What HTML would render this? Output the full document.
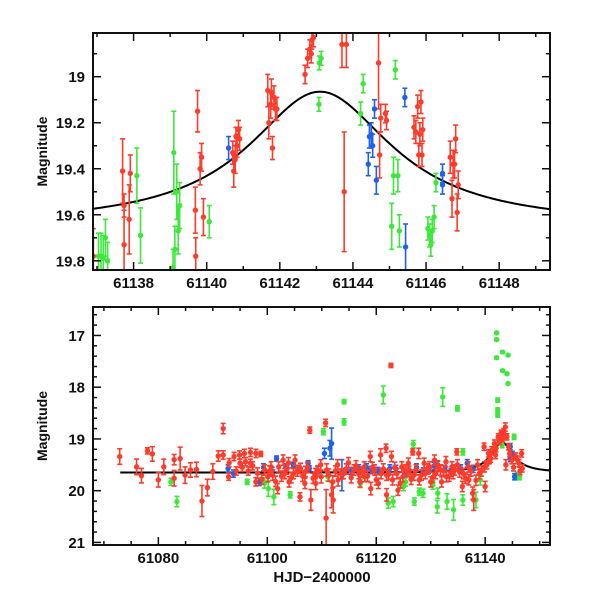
<!DOCTYPE html>
<html><head><meta charset="utf-8"><style>
html,body{margin:0;padding:0;background:#fff}
svg text{font-family:"Liberation Sans",sans-serif;font-weight:bold;fill:#111}
</style></head><body>
<svg id="chart" width="600" height="600" xmlns="http://www.w3.org/2000/svg"></svg>
<script>
// ---- data: [HJD-2400000, magnitude, error] ----
const topRed = [[61136.90,19.78,.12],[61137.70,19.41,.14],[61137.74,19.73,.15],[61137.74,19.56,.05],[61137.88,19.62,.15],[61137.91,19.42,.08],[61139.75,19.15,.09],[61139.69,19.58,.10],[61139.70,19.78,.08],[61139.82,19.40,.07],[61139.86,19.35,.06],[61139.91,19.61,.08],[61140.71,19.33,.05],[61140.74,19.41,.07],[61140.78,19.36,.06],[61140.80,19.26,.04],[61140.83,19.30,.05],[61140.87,19.23,.04],[61140.90,19.27,.05],[61141.67,19.06,.07],[61141.70,19.20,.07],[61141.75,19.12,.06],[61141.77,19.07,.06],[61141.80,19.31,.05],[61141.84,19.09,.05],[61141.88,19.14,.05],[61141.92,19.14,.05],[61142.69,18.99,.04],[61142.76,18.92,.04],[61142.82,18.88,.04],[61142.88,18.84,.04],[61142.86,18.90,.04],[61142.92,18.83,.04],[61143.70,18.86,.10],[61143.76,19.50,.26],[61143.82,18.86,.10],[61144.70,18.94,.20],[61144.73,19.34,.10],[61144.76,19.18,.06],[61144.89,19.16,.04],[61144.92,19.19,.04],[61145.67,19.22,.05],[61145.72,19.24,.05],[61145.77,19.13,.05],[61145.80,19.34,.05],[61145.83,19.25,.05],[61145.86,19.11,.05],[61145.89,19.34,.05],[61145.91,19.23,.05],[61146.66,19.35,.07],[61146.71,19.53,.08],[61146.74,19.38,.06],[61146.78,19.38,.06],[61146.81,19.27,.06],[61146.85,19.59,.08],[61146.88,19.47,.06]];
const topGreen = [[61137.04,19.78,.10],[61137.11,19.78,.10],[61137.17,19.79,.10],[61137.23,19.70,.08],[61137.29,19.80,.08],[61138.09,19.43,.12],[61138.19,19.69,.12],[61139.10,19.33,.18],[61139.13,19.75,.10],[61139.18,19.50,.12],[61139.22,19.67,.10],[61139.26,19.56,.10],[61139.08,19.83,.08],[61140.07,19.63,.07],[61143.08,18.94,.03],[61143.13,18.92,.03],[61143.07,19.12,.03],[61144.28,19.03,.04],[61144.21,19.16,.05],[61145.06,19.65,.10],[61145.11,19.43,.08],[61145.16,18.97,.04],[61145.23,19.43,.07],[61145.27,19.67,.07],[61146.05,19.66,.05],[61146.10,19.69,.05],[61146.13,19.73,.05],[61146.17,19.67,.05],[61146.22,19.61,.05],[61146.27,19.46,.04]];
const topBlue = [[61140.60,19.31,.05],[61144.42,19.38,.05],[61144.45,19.26,.05],[61144.50,19.25,.05],[61144.54,19.30,.05],[61144.59,19.14,.04],[61144.64,19.45,.06],[61145.42,19.09,.04],[61145.44,19.74,.10],[61146.45,19.42,.04],[61146.45,19.47,.04]];

const botRed = [[61072.9,19.34,.15],[61076.0,19.54,.15],[61076.9,19.71,.14],[61078.0,19.23,.06],[61078.9,19.29,.14],[61080.0,19.79,.14],[61081.0,19.54,.15],[61082.9,19.76,.15],[61082.9,19.40,.10],[61084.0,19.38,.22],[61084.9,19.70,.16],[61085.9,19.60,.14],[61087.0,19.59,.14],[61088.0,20.20,.30],[61089.0,19.94,.16],[61090.0,19.63,.15],[61091.0,19.33,.10],[61091.9,18.80,.10],[61091.9,19.31,.08],[61092.9,19.73,.07],[61093.0,19.46,.08],[61093.9,19.34,.08],[61094.9,19.31,.08],[61095.0,19.47,.08],[61095.8,19.28,.08],[61096.0,19.44,.08],[61096.9,19.26,.08],[61096.9,19.47,.08],[61097.9,19.28,.08],[61097.9,19.83,.08],[61098.8,19.29,.05],[61098.2,19.66,.10],[61099.5,19.60,.10],[61100.1,19.73,.10],[61100.7,19.54,.10],[61101.0,19.70,.10],[61101.9,19.96,.10],[61102.1,19.54,.10],[61102.9,19.41,.10],[61103.2,19.67,.10],[61103.9,19.46,.10],[61104.0,19.83,.10],[61104.8,19.67,.10],[61105.1,19.41,.10],[61106.0,20.12,.08],[61106.1,19.57,.10],[61106.9,19.86,.10],[61107.0,19.63,.10],[61107.8,18.83,.06],[61108.0,20.18,.20],[61108.8,19.67,.10],[61108.9,19.86,.12],[61109.8,19.50,.10],[61109.9,19.73,.12],[61110.7,18.69,.07],[61110.8,20.53,.55],[61110.9,19.60,.12],[61111.8,20.08,.25],[61112.0,19.83,.12],[61112.1,20.18,.25],[61112.9,19.50,.10],[61113.0,19.79,.12],[61114.0,19.67,.10],[61114.9,19.46,.10],[61115.9,19.60,.10],[61116.8,19.67,.10],[61117.0,19.83,.10],[61117.8,19.54,.10],[61117.9,19.73,.10],[61118.9,19.34,.10],[61119.0,19.96,.12],[61119.7,19.60,.10],[61120.0,19.79,.10],[61120.8,19.31,.12],[61120.9,19.67,.10],[61121.8,19.18,.08],[61121.9,20.08,.12],[61121.9,19.70,.10],[61122.7,17.58,.04],[61122.8,19.34,.10],[61123.0,19.79,.10],[61123.8,19.67,.10],[61124.0,19.99,.10],[61124.7,19.54,.10],[61124.9,19.73,.10],[61125.9,19.47,.10],[61126.0,19.63,.10],[61126.7,19.25,.06],[61126.9,19.70,.10],[61127.8,19.28,.10],[61127.9,19.79,.10],[61128.8,19.47,.10],[61129.0,19.67,.10],[61129.8,19.54,.10],[61130.0,19.83,.10],[61130.7,19.41,.10],[61130.9,19.67,.10],[61131.8,19.60,.10],[61132.0,19.83,.10],[61132.8,19.44,.10],[61132.9,19.73,.10],[61133.9,19.54,.10],[61134.1,19.67,.10],[61134.8,19.25,.06],[61134.9,19.50,.10],[61135.8,19.92,.10],[61136.0,19.67,.10],[61136.9,19.54,.10],[61137.0,19.79,.10],[61137.7,20.05,.12],[61137.9,20.18,.20],[61138.6,19.50,.10],[61138.9,19.67,.10],[61139.8,19.15,.07],[61139.9,19.54,.10],[61140.0,19.92,.10],[61140.6,19.28,.07],[61140.8,19.41,.07],[61141.2,19.22,.07],[61141.7,19.09,.07],[61141.9,19.31,.07],[61142.4,18.96,.06],[61142.9,18.89,.06],[61143.4,18.86,.06],[61143.7,18.77,.08],[61143.8,19.50,.10],[61144.0,18.96,.06],[61144.3,19.15,.06],[61144.9,19.41,.07],[61145.6,19.34,.07],[61146.2,19.47,.07],[61146.7,19.28,.07],[61146.8,19.57,.07],
[61094.3,19.62,.08],[61095.4,19.55,.08],[61096.5,19.62,.08],[61097.3,19.52,.08],[61099.0,19.78,.10],[61100.4,19.62,.10],[61101.5,19.82,.10],[61102.6,19.72,.10],[61103.6,19.58,.10],[61104.4,19.75,.10],[61105.5,19.62,.10],[61106.5,19.72,.10],[61107.4,19.55,.10],[61108.4,19.76,.10],[61109.3,19.62,.10],[61111.3,19.70,.12],[61112.5,19.62,.10],[61113.5,19.68,.10],[61114.5,19.58,.10],[61115.4,19.75,.10],[61116.3,19.52,.10],[61117.4,19.64,.10],[61118.4,19.72,.10],[61119.3,19.55,.10],[61120.4,19.86,.10],[61121.3,19.58,.10],[61122.3,19.68,.10],[61123.4,19.55,.10],[61124.4,19.85,.10],[61125.4,19.60,.10],[61126.4,19.78,.10],[61127.3,19.60,.10],[61128.3,19.70,.10],[61129.4,19.58,.10],[61130.4,19.74,.10],[61131.3,19.52,.10],[61132.4,19.62,.10],[61133.4,19.72,.10],[61134.4,19.60,.10],[61135.3,19.64,.10],[61136.4,19.76,.10],[61137.4,19.62,.10],[61138.3,19.80,.10],[61139.3,19.62,.10],[61140.3,19.50,.08],[61141.0,19.38,.07],[61142.0,19.18,.07],[61142.6,19.05,.06],[61143.2,19.00,.06],[61144.5,19.28,.06],[61145.2,19.55,.07],[61145.9,19.40,.07],[61146.4,19.62,.07]];
const botGreen = [[61082.3,19.83,.07],[61083.4,20.21,.10],[61096.3,19.83,.05],[61100.2,19.96,.15],[61101.2,20.12,.15],[61104.2,20.08,.06],[61110.3,18.86,.06],[61114.1,18.28,.04],[61114.1,18.67,.06],[61121.3,18.15,.17],[61122.2,20.24,.10],[61123.1,20.21,.10],[61125.0,19.92,.08],[61126.8,19.10,.07],[61127.0,20.21,.07],[61127.9,20.02,.07],[61131.2,20.31,.12],[61131.3,20.05,.10],[61132.2,18.19,.18],[61133.0,20.21,.15],[61134.2,20.37,.20],[61134.9,18.41,.05],[61135.9,19.25,.06],[61135.9,20.18,.10],[61138.3,20.18,.15],[61139.1,19.79,.10],[61142.1,16.95,.02],[61142.1,17.08,.02],[61142.1,17.43,.02],[61142.3,18.25,.04],[61142.3,18.44,.04],[61142.3,18.54,.04],[61143.2,17.32,.02],[61143.2,17.68,.02],[61144.2,17.38,.02],[61144.0,17.74,.02],[61144.2,17.93,.02],[61143.1,19.12,.05],[61145.3,18.96,.05],[61145.9,19.70,.06],[61146.3,19.73,.06],[61099.5,19.85,.10],[61111.1,19.73,.08],[61117.1,19.86,.08],[61125.4,19.83,.08],[61128.6,20.05,.08],[61130.4,19.89,.08]];
const botBlue = [[61092.8,19.57,.07],[61093.8,19.67,.07],[61098.5,19.83,.07],[61101.7,19.38,.05],[61104.8,19.50,.05],[61107.5,19.47,.05],[61107.7,19.57,.05],[61110.5,19.28,.10],[61111.5,19.18,.15],[61111.8,19.09,.30],[61113.7,19.70,.30],[61116.8,19.57,.07],[61119.0,19.60,.07],[61122.5,19.57,.07],[61126.0,19.60,.07],[61128.6,19.63,.07],[61131.3,19.50,.07],[61134.2,19.63,.07],[61136.7,19.47,.07],[61144.6,19.15,.06],[61144.6,19.38,.06],[61145.4,19.73,.06],[61135.5,19.57,.07],
[61099.3,19.55,.07],[61100.9,19.62,.07],[61103.4,19.55,.07],[61105.7,19.58,.07],[61109.2,19.60,.07],[61115.3,19.62,.07],[61118.2,19.55,.07],[61120.3,19.62,.07],[61123.6,19.58,.07],[61125.2,19.66,.07],[61127.4,19.55,.07],[61129.6,19.60,.07],[61130.6,19.52,.07],[61132.6,19.58,.07],[61133.7,19.65,.07],[61137.8,19.58,.07],[61145.0,19.30,.06]];

const topXTicks = [61138,61140,61142,61144,61146,61148];
const topYTicks = [19,19.2,19.4,19.6,19.8];
const botXTicks = [61080,61100,61120,61140];
const botYTicks = [17,18,19,20,21];
const modelBase = 19.65, modelAmp = 0.585, modelT0 = 61143.1, modelW = 2.4;

const NS = "http://www.w3.org/2000/svg";
const svg = document.getElementById('chart');
function mk(tag, attrs, parent){const e=document.createElementNS(NS,tag);for(const k in attrs)e.setAttribute(k,attrs[k]);(parent||svg).appendChild(e);return e;}
function model(t){const u=(t-modelT0)/modelW;return modelBase-modelAmp/(1+u*u);}

const COLORS={red:'#ff3b2b',green:'#3de83a',blue:'#1f62ea'};

function panel(name, box, xd, yd, xTicks, xMinor, yTicks, yMinor, fmtY, series, curveFrom){
  const X=t=>box.x+(t-xd[0])/(xd[1]-xd[0])*box.w;
  const Y=m=>box.y+(m-yd[0])/(yd[1]-yd[0])*box.h;
  const g=mk('g',{});
  
  
  const clipId='clip-'+name;
  const cp=mk('clipPath',{id:clipId},g);mk('rect',{x:box.x,y:box.y,width:box.w,height:box.h},cp);
  const plot=mk('g',{'clip-path':'url(#'+clipId+')'},g);
  let d='';const t0=Math.max(curveFrom,xd[0]);
  for(let i=0;i<=300;i++){const t=t0+(xd[1]-t0)*i/300;d+=(i?'L':'M')+X(t).toFixed(2)+','+Y(model(t)).toFixed(2);}
  const cur=mk('path',{d:d,fill:'none',stroke:'#000','stroke-width':2},plot);
  
  
  for(const [cname,pts] of series){
    const sg=mk('g',{stroke:COLORS[cname],fill:COLORS[cname]},plot);
    
    
    for(const p of pts){
      const x=X(p[0]),y=Y(p[1]),y1=Y(p[1]-p[2]),y2=Y(p[1]+p[2]);
      mk('line',{x1:x,x2:x,y1:y1,y2:y2,'stroke-width':1.6},sg);
      mk('line',{x1:x-2.5,x2:x+2.5,y1:y1,y2:y1,'stroke-width':1.6},sg);
      mk('line',{x1:x-2.5,x2:x+2.5,y1:y2,y2:y2,'stroke-width':1.6},sg);
      const c=mk('circle',{cx:x,cy:y,r:2.7,stroke:'none'},sg);
      
      
    }
  }
  const fr=mk('rect',{x:box.x,y:box.y,width:box.w,height:box.h,fill:'none',stroke:'#111','stroke-width':2},g);
  
  
  for(let t=Math.ceil(xd[0]/xMinor)*xMinor;t<=xd[1];t+=xMinor){
    const major=xTicks.some(v=>Math.abs(v-t)<1e-6);const L=major?8:4;const x=X(t);
    mk('line',{x1:x,x2:x,y1:box.y+box.h,y2:box.y+box.h-L,stroke:'#111','stroke-width':1.5},g);
    mk('line',{x1:x,x2:x,y1:box.y,y2:box.y+L,stroke:'#111','stroke-width':1.5},g);
  }
  for(const t of xTicks){
    const tx=mk('text',{x:X(t),y:box.y+box.h+18,'text-anchor':'middle','font-size':15},g);
    tx.textContent=t;
    
    
  }
  for(let m=Math.ceil(yd[0]/yMinor-1e-6)*yMinor;m<=yd[1]+1e-9;m+=yMinor){
    const major=yTicks.some(v=>Math.abs(v-m)<1e-6);const L=major?8:4;const y=Y(m);
    mk('line',{x1:box.x,x2:box.x+L,y1:y,y2:y,stroke:'#111','stroke-width':1.5},g);
    mk('line',{x1:box.x+box.w,x2:box.x+box.w-L,y1:y,y2:y,stroke:'#111','stroke-width':1.5},g);
  }
  for(const m of yTicks){
    const ty=mk('text',{x:box.x-8,y:Y(m)+5.5,'text-anchor':'end','font-size':15},g);
    ty.textContent=fmtY(m);
    
    
  }
  const yt=mk('text',{x:0,y:0,'text-anchor':'middle','font-size':14,transform:'translate('+(box.x-46)+','+(box.y+box.h/2)+') rotate(-90)'},g);
  yt.textContent='Magnitude';
  
  
}

panel('top-panel',{x:93,y:33,w:457,h:237},[61136.89,61149.39],[18.81,19.84],topXTicks,1,topYTicks,0.1,
  m=>(Math.abs(m-19)<1e-6?'19':m.toFixed(1)),[['red',topRed],['green',topGreen],['blue',topBlue]],-1e9);
panel('bottom-panel',{x:93,y:307,w:457,h:238},[61068.0,61151.9],[16.45,21.05],botXTicks,5,botYTicks,0.2,
  m=>String(m),[['green',botGreen],['blue',botBlue],['red',botRed]],61073);

const xl=mk('text',{x:322,y:582,'text-anchor':'middle','font-size':15});
xl.textContent='HJD\u22122400000';


</script>
</body></html>
